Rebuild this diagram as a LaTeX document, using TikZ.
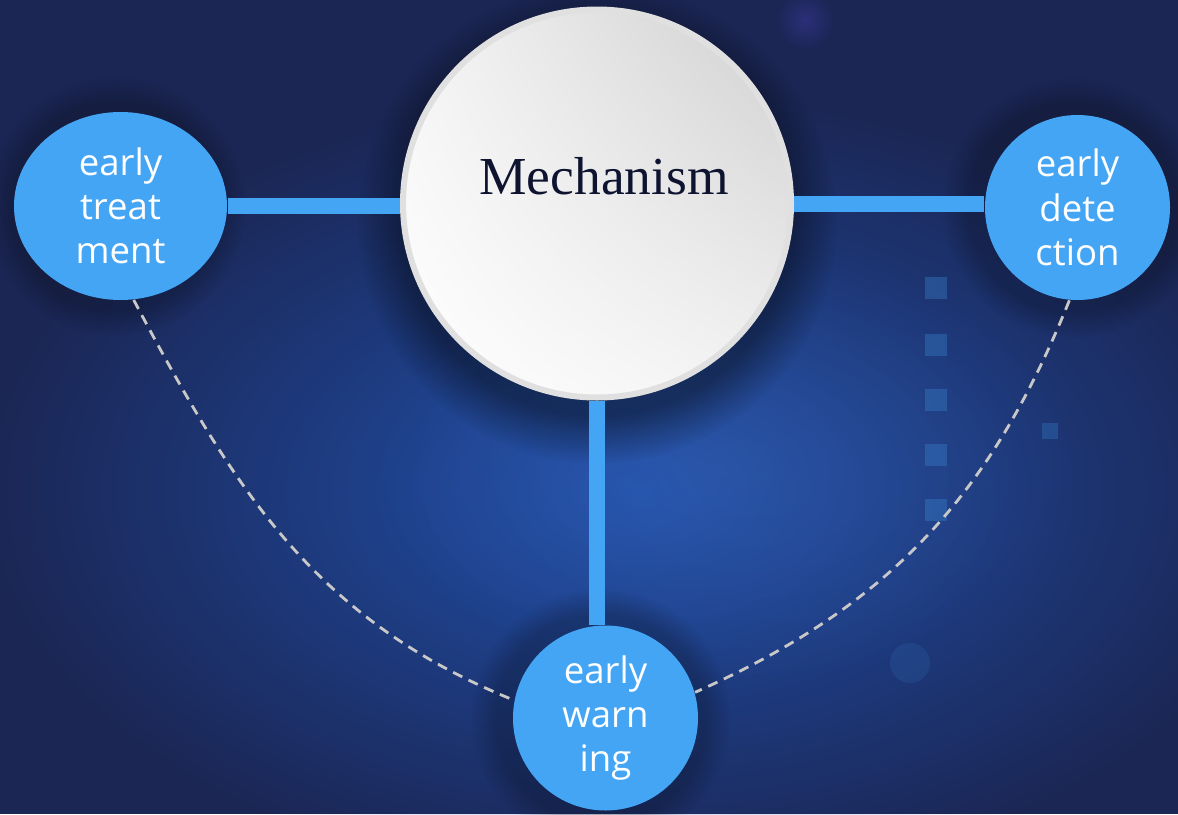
\documentclass[tikz,border=0pt]{standalone}
\usepackage{fontspec}
\setmainfont{Liberation Serif}
\newfontfamily\bubblefont{Open Sans}
\usetikzlibrary{shapes.geometric,fadings,shadings}
\definecolor{navybg}{HTML}{1B2654}
\definecolor{glowblue}{HTML}{2151AC}
\definecolor{bubbleblue}{HTML}{44A5F5}
\definecolor{dashgray}{HTML}{C8C8C8}
\definecolor{inkblue}{HTML}{0E1430}
\definecolor{decoblue}{HTML}{3A88D2}
\tikzfading[name=softglow, inner color=transparent!0, outer color=transparent!100]
\pgfdeclarelayer{bg}
\pgfsetlayers{bg,main}

\begin{document}
\begin{tikzpicture}[
		bubble/.style={shape=ellipse, fill=bubbleblue, text=white, align=center, inner sep=0pt,
			font=\bubblefont\fontsize{10.4}{12.6}\selectfont},
		mechface/.style={circle, draw=black!12, line width=0.06cm, upper right=black!19, upper left=black!4,
			lower left=white, lower right=black!5, inner sep=0pt},
		link/.style={draw=bubbleblue, line width=0.16cm},
		trail/.style={draw=dashgray, line width=0.8pt, dash pattern=on 2.9pt off 2pt},
		shadowblob/.style={fill=black, path fading=circle with fuzzy edge 20 percent}
	]
		\useasboundingbox (0,0) rectangle (11.78,-8.14);
		\clip (0,0) rectangle (11.78,-8.14);
		\node[mechface, minimum size=3.88cm] (mech) at (5.97,-2.035) {};
		\node[font=\fontsize{15.2}{18}\selectfont, text=inkblue] (mechlabel) at ([xshift=0.07cm,yshift=0.27cm]mech.center) {Mechanism};
		\node[bubble, minimum width=2.13cm, minimum height=1.88cm] (treat) at (1.205,-2.06) {early\\treat\\ment};
		\node[bubble, minimum size=1.85cm] (detect) at (10.775,-2.075) {early\\dete\\ction};
		\node[bubble, minimum size=1.85cm] (warn) at (6.055,-7.18) {early\\warn\\ing};
		\begin{pgfonlayer}{bg}
			\fill[navybg] (0,0) rectangle (11.78,-8.14);
			\fill[glowblue, path fading=softglow] (6.4,-4.9) ellipse (6.6 and 4.0);
			\fill[glowblue!85!white, opacity=0.3, path fading=softglow] (7.2,-4.7) ellipse (3.6 and 2.2);
			\foreach \y in {2.88,3.45,4.0,4.55,5.1}
				\fill[decoblue, opacity=0.35] (9.25,{-\y+0.11}) rectangle ++(0.22,-0.22);
			\fill[decoblue, opacity=0.3] (10.42,-4.23) rectangle ++(0.16,-0.16);
			\fill[decoblue, opacity=0.15] (9.1,-6.63) circle (0.2);
			\fill[glowblue!70!violet, opacity=0.5, path fading=softglow] (8.05,-0.2) circle (0.3);
			\fill[shadowblob, opacity=0.4] ([yshift=-0.2cm]mech.center) circle (2.4);
			\foreach \n in {treat,detect,warn}
				\fill[shadowblob, opacity=0.22] ([xshift=-0.05cm]\n.center) circle (1.3);
			\draw[link] (treat.east) -- (treat.east -| mech.west);
			\draw[link] (mech.east) -- (mech.east -| detect.west);
			\draw[link] (mech.south) -- (mech.south |- warn.north);
			\draw[trail] (treat.-82) to[out=-62,in=158] (warn.169);
			\draw[trail] (detect.-95) to[out=-112,in=24] (warn.16);
		\end{pgfonlayer}
	\end{tikzpicture}
\end{document}
